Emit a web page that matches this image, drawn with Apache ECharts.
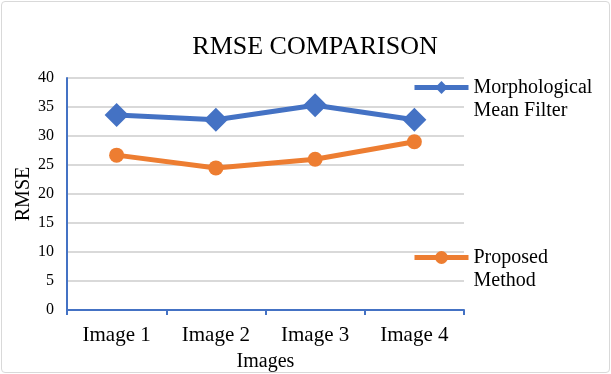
<!DOCTYPE html>
<html><head><meta charset="utf-8">
<script src="https://cdn.jsdelivr.net/npm/echarts@6/dist/echarts.min.js"></script>
<style>html,body{margin:0;padding:0;background:#fff}
#c{position:absolute;left:1px;top:1px;width:607px;height:370px;border:1px solid #d9d9d9;border-radius:4px;}</style>
</head><body><div id="c"></div>
<script>
const categories = ['Image 1','Image 2','Image 3','Image 4'];
const morphological = [33.6, 32.8, 35.3, 32.8];
const proposed = [26.7, 24.5, 26.0, 29.0];
const yTicks = [0,5,10,15,20,25,30,35,40];
const font = '"Liberation Serif","Times New Roman",serif';
const chart = echarts.init(document.getElementById('c'));
chart.setOption({
  animation:false,
  title:{text:'RMSE COMPARISON',left:308,textAlign:'center',top:27,textStyle:{fontFamily:font,fontSize:26,fontWeight:'normal',color:'#000'}},
  grid:{left:65,right:145,top:76,bottom:62,outerBoundsMode:'none',containLabel:false},
  legend:{orient:'vertical',left:410,top:51,padding:0,itemGap:101,itemWidth:54,itemHeight:16,
    lineStyle:{width:5},
    formatter:name=>' \n'+name,
    textStyle:{fontFamily:font,fontSize:20,color:'#000',lineHeight:23},
    data:[{name:'Morphological\nMean Filter'},{name:'Proposed\nMethod'}]},
  xAxis:{type:'category',data:categories,boundaryGap:true,
    name:'Images',nameLocation:'middle',nameGap:42,nameTextStyle:{fontFamily:font,fontSize:20,color:'#000'},
    axisLine:{lineStyle:{color:'#4472C4',width:2}},axisTick:{show:true,length:5,lineStyle:{color:'#4472C4',width:2}},
    axisLabel:{fontFamily:font,fontSize:21,color:'#000',margin:15,interval:0},splitLine:{show:false}},
  yAxis:{type:'value',min:0,max:40,interval:5,
    name:'RMSE',nameLocation:'middle',nameGap:33,nameMoveOverlap:false,nameTextStyle:{fontFamily:font,fontSize:20,color:'#000'},
    axisLine:{show:true,lineStyle:{color:'#4472C4',width:2}},axisTick:{show:false},
    axisLabel:{fontFamily:font,fontSize:16,color:'#000',margin:13,formatter:v=>yTicks.includes(v)?String(v):''},
    splitLine:{lineStyle:{color:'#d9d9d9',width:2}}},
  series:[
    {name:'Morphological\nMean Filter',type:'line',data:morphological,symbol:'diamond',symbolSize:24,
      lineStyle:{color:'#4472C4',width:5},itemStyle:{color:'#4472C4'}},
    {name:'Proposed\nMethod',type:'line',data:proposed,symbol:'circle',symbolSize:15,
      lineStyle:{color:'#ED7D31',width:5},itemStyle:{color:'#ED7D31'}}
  ]
});
</script></body></html>
